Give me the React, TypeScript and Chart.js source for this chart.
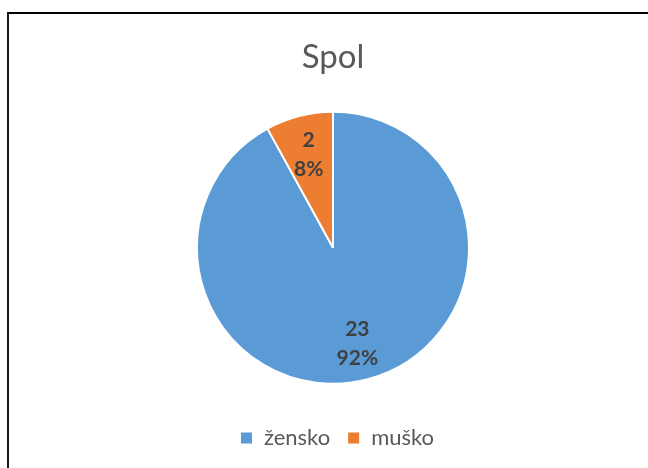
import React, { useEffect, useRef } from 'react';
import { Chart, registerables } from 'chart.js';

Chart.register(...registerables);

const chartTitle = 'Spol';
const categories = ['žensko', 'muško'];
const values = [23, 2];
const colors = ['#5B9BD5', '#ED7D31'];

const FONT = 'Lato, "Open Sans", sans-serif';

const sliceLabels = {
  id: 'sliceLabels',
  afterDatasetsDraw(chart: any) {
    const ctx = chart.ctx;
    const meta = chart.getDatasetMeta(0);
    const total = values.reduce((a, b) => a + b, 0);
    meta.data.forEach((arc: any, i: number) => {
      const p = arc.getProps(['x', 'y', 'startAngle', 'endAngle', 'outerRadius'], true);
      const mid = (p.startAngle + p.endAngle) / 2;
      const r = p.outerRadius * 0.72;
      const cx = p.x + Math.cos(mid) * r;
      const cy = p.y + Math.sin(mid) * r + 1.5;
      ctx.save();
      ctx.font = `bold 21px ${FONT}`;
      ctx.fillStyle = '#404040';
      ctx.textAlign = 'center';
      ctx.textBaseline = 'middle';
      ctx.fillText(String(values[i]), cx, cy - 14.5);
      ctx.fillText(Math.round((values[i] / total) * 100) + '%', cx, cy + 14.5);
      ctx.restore();
    });
  },
};

const legendShift = {
  id: 'legendShift',
  afterLayout(chart: any) {
    if (chart.legend) {
      chart.legend.left += 4;
      chart.legend.right += 4;
    }
  },
};

export default function App() {
  const ref = useRef<HTMLCanvasElement>(null);
  useEffect(() => {
    if (!ref.current) return;
    const chart = new Chart(ref.current, {
      type: 'pie',
      data: {
        labels: categories,
        datasets: [
          {
            data: values,
            backgroundColor: colors,
            borderColor: '#ffffff',
            borderWidth: 2,
            radius: 136,
          },
        ],
      },
      options: {
        responsive: false,
        animation: false,
        devicePixelRatio: 1,
        layout: { padding: { left: 18, right: 0, top: 0, bottom: 9 } },
        plugins: {
          title: {
            display: true,
            text: chartTitle,
            color: '#595959',
            font: { family: FONT, size: 33, weight: 'normal' },
            padding: { top: 38, bottom: 8 },
          },
          legend: {
            display: true,
            position: 'bottom',
            labels: {
              color: '#595959',
              font: { family: FONT, size: 22 },
              boxWidth: 13,
              boxHeight: 13,
              padding: 17,
            },
          },
          tooltip: { enabled: false },
        },
      },
      plugins: [sliceLabels, legendShift],
    });
    return () => chart.destroy();
  }, []);

  return (
    <div style={{ position: 'fixed', left: 0, top: 0, width: 648, height: 468, overflow: 'hidden', background: '#fff' }}>
      <canvas ref={ref} width={648} height={468} style={{ position: 'absolute', left: 0, top: 0 }} />
      <div
        style={{
          position: 'absolute',
          left: 7,
          top: 12,
          width: 1000,
          height: 1000,
          borderTop: '2px solid #000',
          borderLeft: '2px solid #1a1a1a',
          pointerEvents: 'none',
        }}
      />
    </div>
  );
}
